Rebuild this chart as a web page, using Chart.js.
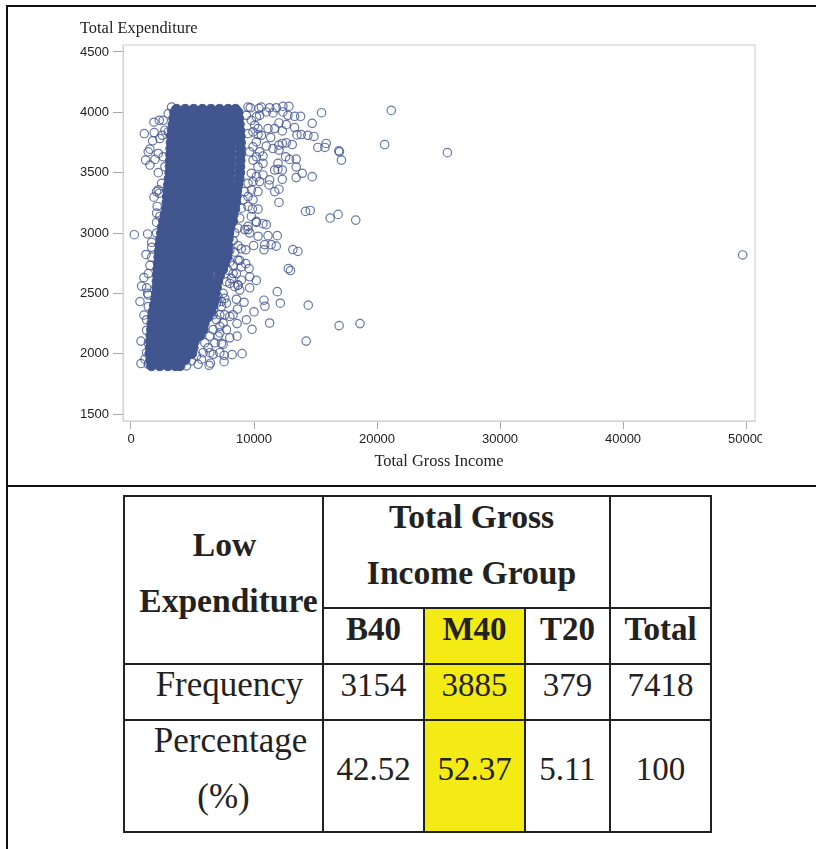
<!DOCTYPE html>
<html lang="en">

<head>
    <meta charset="UTF-8">
    <title>Total Expenditure vs Total Gross Income</title>
    <script src="https://cdn.jsdelivr.net/npm/chart.js"></script>
    <style>
        html, body { margin: 0; padding: 0; background: #fff; overflow: hidden; }
        body { width: 816px; height: 849px; position: relative; }
        #frame { position: absolute; left: 6px; top: 5px; width: 810px; height: 844px; box-sizing: border-box; border-top: 2px solid #111; border-left: 2px solid #111; }
        #divider { position: absolute; left: 6px; top: 485px; width: 810px; height: 2px; background: #111; }
        #myChart { position: absolute; left: 0; top: 0; }
        #yTitle { position: absolute; left: 80px; top: 18px; font: 16.4px "Liberation Serif", serif; color: #222; white-space: nowrap; }
        #stats { position: absolute; left: 123px; top: 495px; width: 589px; height: 338px; border-collapse: collapse; table-layout: fixed; font: 33px/56px "Liberation Serif", serif; color: #222; text-align: center; }
        #stats td { border: 2px solid #222; padding: 0; overflow: visible; white-space: nowrap; }
        #stats .head { font-weight: bold; }
        #stats .hi { background: #f4ea14; }
        #stats .c { position: relative; top: -8px; margin-bottom: -2px; }
        #stats .big { font-size: 33.6px; }
        #stats .label { font-size: 35px; }
    </style>
</head>

<body>
    <div id="frame"></div>
    <div id="divider"></div>
    <canvas id="myChart" width="762" height="486"></canvas>
    <div id="yTitle">Total Expenditure</div>
    <table id="stats"></table>
    <script>
        const xTitle = 'Total Gross Income';
        const xTicks = [0, 10000, 20000, 30000, 40000, 50000];
        const yTicks = [1500, 2000, 2500, 3000, 3500, 4000, 4500];

        // the solid part of the cloud, one row of incomes per expenditure level
        const denseY = [1900, 1950, 2000, 2050, 2100, 2150, 2200, 2250, 2300, 2350, 2400, 2450, 2500, 2550, 2600, 2650, 2700, 2750, 2800, 2850, 2900, 2950, 3000, 3050, 3100, 3150, 3200, 3250, 3300, 3350, 3400, 3450, 3500, 3550, 3600, 3650, 3700, 3750, 3800, 3850, 3900, 3950, 4000, 4025];
        const denseX = [
            [1670, 2350, 3000, 3600, 3980],
            [1600, 2300, 3000, 3700, 4400],
            [1535, 2250, 2950, 3650, 4350, 4925],
            [1560, 2280, 3000, 3720, 4440, 5050],
            [1590, 2300, 3000, 3700, 4400, 5150],
            [1620, 2350, 3050, 3750, 4450, 5150, 5600],
            [1670, 2400, 3100, 3800, 4500, 5200, 5870],
            [1700, 2400, 3100, 3800, 4500, 5200, 5950],
            [1750, 2450, 3150, 3850, 4550, 5250, 5950, 6200],
            [1800, 2500, 3200, 3900, 4600, 5300, 6000, 6500],
            [1900, 2600, 3300, 4000, 4700, 5400, 6100, 6650],
            [2000, 2700, 3400, 4100, 4800, 5500, 6200, 6800],
            [2080, 2750, 3450, 4150, 4850, 5550, 6250, 6850],
            [2100, 2800, 3500, 4200, 4900, 5600, 6300, 6950],
            [2120, 2820, 3520, 4220, 4920, 5620, 6320, 7050],
            [2150, 2850, 3550, 4250, 4950, 5650, 6350, 7200],
            [2180, 2880, 3580, 4280, 4980, 5680, 6380, 7080, 7450],
            [2220, 2920, 3620, 4320, 5020, 5720, 6420, 7120, 7600],
            [2265, 2950, 3650, 4350, 5050, 5750, 6450, 7150, 7800],
            [2300, 3000, 3700, 4400, 5100, 5800, 6500, 7200, 7850],
            [2350, 3050, 3750, 4450, 5150, 5850, 6550, 7250, 7850],
            [2420, 3100, 3800, 4500, 5200, 5900, 6600, 7300, 7900],
            [2480, 3180, 3880, 4580, 5280, 5980, 6680, 7380, 7950],
            [2550, 3250, 3950, 4650, 5350, 6050, 6750, 7450, 8050],
            [2650, 3350, 4050, 4750, 5450, 6150, 6850, 7550, 8250],
            [2780, 3450, 4150, 4850, 5550, 6250, 6950, 7650, 8300],
            [2890, 3550, 4250, 4950, 5650, 6350, 7050, 7750, 8440],
            [2920, 3600, 4300, 5000, 5700, 6400, 7100, 7800, 8500],
            [2950, 3650, 4350, 5050, 5750, 6450, 7150, 7850, 8550],
            [3000, 3700, 4400, 5100, 5800, 6500, 7200, 7900, 8600],
            [3050, 3750, 4450, 5150, 5850, 6550, 7250, 7950, 8700],
            [3100, 3800, 4500, 5200, 5900, 6600, 7300, 8000, 8800],
            [3160, 3860, 4560, 5260, 5960, 6660, 7360, 8060, 8840],
            [3180, 3880, 4580, 5280, 5980, 6680, 7380, 8080, 8850],
            [3200, 3900, 4600, 5300, 6000, 6700, 7400, 8100, 8870],
            [3220, 3920, 4620, 5320, 6020, 6720, 7420, 8120, 8890],
            [3240, 3940, 4640, 5340, 6040, 6740, 7440, 8140, 8900],
            [3260, 3960, 4660, 5360, 6060, 6760, 7460, 8160, 8900],
            [3290, 3990, 4690, 5390, 6090, 6790, 7490, 8190, 8880],
            [3350, 4050, 4750, 5450, 6150, 6850, 7550, 8250, 8850],
            [3420, 4100, 4800, 5500, 6200, 6900, 7600, 8300, 8800],
            [3480, 4150, 4850, 5550, 6250, 6950, 7650, 8350, 8750],
            [3550, 4250, 4950, 5650, 6350, 7050, 7750, 8450, 8700],
            [3700, 4400, 5100, 5800, 6500, 7200, 7900, 8500]
        ];

        // single open circles around the cloud
        const ringX = [21160, 15490, 20620, 16890, 16950, 17110, 15870, 15760, 15190, 14870, 14380, 13840, 13490, 14730, 13790, 13300, 12840, 12350, 11810, 12350, 12760, 11270, 10600, 10400, 9700, 9510, 11000, 11540, 10460, 13300, 12620, 12030, 11140, 12300, 11680, 11350, 10600, 10330, 13110, 12620, 12300, 12030, 12030, 11540, 11000, 12570, 12890, 13430, 11950, 13430, 13920, 14730, 13430, 12300, 11950, 12300, 11680, 10730, 11270, 10730, 11220, 10460, 12030, 11680, 12030, 14570, 14190, 16840, 16190, 18270, 10330, 9870, 10190, 11000, 10730, 9510, 9650, 11890, 11140, 10330,
            270, 1350, 2080, 2130, 1865, 2220, 2220, 1190, 1950, 1540, 2220, 1540, 1400, 1760, 1080, 1890, 1865, 2300, 2540, 3030,
            13160, 13570, 11810, 11400, 10870, 10810, 9970, 9330, 12790, 12970, 9330, 9600, 9650, 10190, 9650, 8840, 8970, 11890, 12140, 10810, 10890, 9190, 8570, 14410, 10000, 8650, 8300, 9380, 9840, 11270, 8620, 18620, 16920, 14240, 8620, 9030, 8220, 7570, 7220, 7570, 6460, 6350, 5460, 6410, 7350, 8030, 7220, 7490, 7220, 6680, 7350, 7760, 8030, 8700, 8300, 8840, 8030,
            730, 1050, 810, 810, 1270, 1270, 1050, 860, 1270, 1220, 1680, 1400, 1540, 1350,
            25720, 49730,
            9380, 9785, 10055, 10190, 9920, 10325, 9515, 10190, 9920, 10460, 10190, 10730, 10325, 9920, 9650, 9785, 10190, 9920, 9515, 9785, 9245, 10325, 9515, 9110, 8570, 9920, 9515, 8970, 9785, 8840, 8300, 9515, 9245, 10190, 8030, 8700, 8435,
            8300, 8700, 8970, 8435, 8030, 8700, 8300, 8970, 7890, 8570, 8165, 7760, 8700, 8435, 7490, 7080, 7620, 6950, 7350, 6680, 7620, 8030, 6950, 7220, 7760, 6680, 7080, 6410, 6815, 7490, 6000, 6270, 5865, 6680, 5325, 4920, 5730, 4515,
            1405, 1270, 1405, 1680, 1680, 1405, 1135, 1405,
            2080, 2350, 2080, 2300, 2080, 2490, 2760, 2620, 2350, 2760, 2620, 3030, 3300];
        const ringY = [4016, 3997, 3733, 3681, 3673, 3604, 3742, 3709, 3709, 3800, 3810, 3816, 3813, 3909, 3967, 3967, 4050, 4050, 4038, 4003, 3975, 4038, 4044, 4033, 4038, 4044, 4003, 3995, 3975, 3874, 3898, 3912, 3865, 3846, 3865, 3791, 3810, 3816, 3733, 3747, 3742, 3728, 3687, 3700, 3720, 3632, 3610, 3613, 3577, 3547, 3495, 3467, 3459, 3522, 3527, 3445, 3522, 3637, 3440, 3481, 3398, 3426, 3363, 3343, 3253, 3187, 3179, 3154, 3124, 3107, 3198, 3198, 3088, 3069, 3077, 3028, 3000, 2978, 2978, 2973,
            2986, 2992, 3088, 3220, 3297, 3357, 3500, 3604, 3610, 3563, 3659, 3695, 3673, 3764, 3824, 3832, 3918, 3934, 3810, 3838,
            2863, 2847, 2891, 2904, 2904, 2861, 2896, 2861, 2705, 2689, 2746, 2705, 2637, 2607, 2546, 2527, 2609, 2514, 2418, 2443, 2393, 2426, 2451, 2402, 2347, 2369, 2322, 2281, 2202, 2254, 2249, 2249, 2232, 2104, 2145, 2000, 1992, 1986, 2008, 1934, 1921, 1904, 1912, 2008, 2085, 2131, 2172, 2254, 2322, 2322, 2432, 2418, 2582, 2568, 2664, 2773, 2760,
            2432, 2320, 2104, 1918, 2008, 2194, 2631, 2560, 2546, 2822, 2800, 2486, 2732, 2500,
            3666, 2818,
            3975, 3934, 3893, 3962, 3838, 3865, 3824, 3755, 3714, 3673, 3632, 3577, 3549, 3604, 3673, 3495, 3467, 3426, 3412, 3357, 3343, 3343, 3302, 3275, 3261, 3275, 3220, 3206, 3137, 3124, 3096, 3055, 3028, 3096, 3055, 3041, 3000,
            2937, 2896, 2869, 2842, 2855, 2773, 2732, 2719, 2691, 2664, 2623, 2596, 2568, 2555, 2500, 2473, 2459, 2418, 2391, 2363, 2322, 2309, 2281, 2227, 2199, 2199, 2145, 2145, 2090, 2077, 2090, 2049, 2008, 1995, 1981, 1940, 1954, 1899,
            2391, 2281, 2664, 2882, 2923, 2090, 1954, 1912,
            3000, 3137, 3165, 3330, 3343, 3412, 3549, 3632, 3783, 3852, 3934, 3989, 4044];

        // table under the plot
        const tableHead = ['B40', 'M40', 'T20', 'Total'];
        const frequency = ['3154', '3885', '379', '7418'];
        const percentage = ['42.52', '52.37', '5.11', '100'];

        const densePoints = [];
        denseX.forEach((row, i) => row.forEach(x => densePoints.push({ x: x, y: denseY[i] })));
        const ringPoints = ringX.map((x, i) => ({ x: x, y: ringY[i] }));

        const plotFrame = {
            id: 'plotFrame',
            afterDraw(chart) {
                const a = chart.chartArea, c = chart.ctx;
                c.save();
                c.strokeStyle = '#d4d4d4';
                c.lineWidth = 1.2;
                c.strokeRect(a.left, a.top, a.right - a.left, a.bottom - a.top);
                c.restore();
            }
        };

        const tickFont = { family: '"Liberation Sans"', size: 13 };

        new Chart(document.getElementById('myChart').getContext('2d'), {
            type: 'scatter',
            data: {
                datasets: [{
                    label: 'rings',
                    data: ringPoints,
                    pointRadius: 4.2,
                    pointBorderWidth: 1.2,
                    pointBackgroundColor: 'rgba(255,255,255,0)',
                    pointBorderColor: 'rgba(65,85,145,0.8)'
                }, {
                    label: 'cloud',
                    data: densePoints,
                    pointRadius: 5,
                    pointBorderWidth: 1,
                    pointBackgroundColor: '#41558f',
                    pointBorderColor: '#41558f'
                }]
            },
            options: {
                responsive: false,
                animation: false,
                layout: { padding: { left: 0, top: 45, right: 7, bottom: 0 } },
                plugins: { legend: { display: false }, tooltip: { enabled: false } },
                scales: {
                    x: {
                        min: -650,
                        max: 50730,
                        afterBuildTicks: s => { s.ticks = xTicks.map(v => ({ value: v })); },
                        afterFit: s => { s.height = 65; s.paddingLeft = 0; s.paddingRight = 0; },
                        grid: { drawOnChartArea: false, tickLength: 8, tickColor: '#aaa' },
                        border: { color: '#d4d4d4' },
                        ticks: { font: tickFont, color: '#222', maxRotation: 0, autoSkip: false, padding: 3, callback: v => String(v) },
                        title: { display: true, text: xTitle, color: '#222', font: { family: '"Liberation Serif"', size: 16.4 }, padding: { top: 6, bottom: 14 } }
                    },
                    y: {
                        min: 1442,
                        max: 4558,
                        afterBuildTicks: s => { s.ticks = yTicks.map(v => ({ value: v })); },
                        afterFit: s => { s.width = 123; s.paddingTop = 0; s.paddingBottom = 0; },
                        grid: { drawOnChartArea: false, tickLength: 10, tickColor: '#aaa' },
                        border: { color: '#d4d4d4' },
                        ticks: { font: tickFont, color: '#222', padding: 4, callback: v => String(v) }
                    }
                }
            },
            plugins: [plotFrame]
        });

        // build the table from the arrays above
        const c = (t, shift) => '<div class="c"' + (shift ? ' style="left:' + shift + 'px"' : '') + '>' + t + '</div>';
        const cols = [199, 101, 101, 85, 101];
        let html = '<colgroup>' + cols.map(w => '<col style="width:' + w + 'px">').join('') + '</colgroup>';
        html += '<tr style="height:112px"><td rowspan="2" class="head big">' + c('Low<br><span style="position:relative;left:4px">Expenditure</span>', 1) + '</td><td colspan="3" class="head big">' + c('Total Gross<br>Income Group', 5) + '</td><td></td></tr>';
        html += '<tr style="height:56px">' + tableHead.map((t, i) => '<td class="head' + (i == 1 ? ' hi' : '') + '">' + c(t) + '</td>').join('') + '</tr>';
        html += '<tr style="height:56px"><td class="label">' + c('Frequency', 6) + '</td>' + frequency.map((t, i) => '<td' + (i == 1 ? ' class="hi"' : '') + '>' + c(t) + '</td>').join('') + '</tr>';
        html += '<tr style="height:112px"><td class="label">' + c('<span style="position:relative;left:7px">Percentage</span><br>(%)') + '</td>' + percentage.map((t, i) => '<td' + (i == 1 ? ' class="hi"' : '') + '>' + c(t) + '</td>').join('') + '</tr>';
        document.getElementById('stats').innerHTML = html;
    </script>
</body>

</html>
